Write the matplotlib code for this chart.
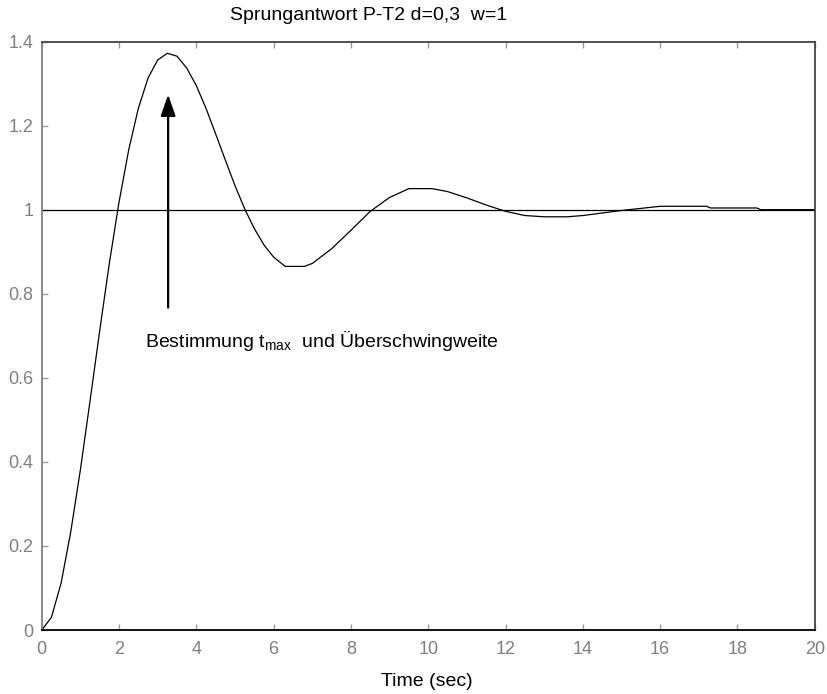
import matplotlib.pyplot as plt

plt.rcParams['font.family'] = ['Liberation Sans', 'DejaVu Sans']
plt.rcParams['mathtext.fontset'] = 'custom'
plt.rcParams['mathtext.rm'] = 'Liberation Sans'

# step response
t = [0, 0.25, 0.5, 0.75, 1, 1.25, 1.5, 1.75, 2, 2.25, 2.5, 2.75, 3, 3.25, 3.5, 3.75,
     4, 4.25, 4.5, 4.75, 5, 5.25, 5.5, 5.75, 6, 6.3, 6.8, 7, 7.5, 8, 8.5, 9, 9.5, 10.1, 10.5, 11, 11.5,
     12, 12.5, 13, 13.6, 14, 14.5, 15, 15.5, 16, 17.2, 17.3, 18.5, 18.6, 20]
y = [0, 0.03, 0.111, 0.233, 0.381, 0.545, 0.712, 0.873, 1.018, 1.142, 1.241, 1.313, 1.356, 1.372, 1.365, 1.337,
     1.295, 1.241, 1.18, 1.118, 1.057, 1.002, 0.955, 0.916, 0.887, 0.865, 0.865, 0.872, 0.907, 0.951, 0.996, 1.029,
     1.05, 1.05, 1.043, 1.028, 1.011,
     0.996, 0.986, 0.983, 0.983, 0.986, 0.992, 0.998, 1.003, 1.008, 1.008, 1.004, 1.004, 1.0, 1.0]

xticks = [0, 2, 4, 6, 8, 10, 12, 14, 16, 18, 20]
yticks = [0, 0.2, 0.4, 0.6, 0.8, 1, 1.2, 1.4]
yticklabels = ['0', '0.2', '0.4', '0.6', '0.8', '1', '1.2', '1.4']

fig = plt.figure(figsize=(8.28, 6.94), dpi=100)
ax = fig.add_axes([0.0504, 0.0922, 0.9336, 0.848])

ax.plot(t, y, color='black', linewidth=0.9)
ax.axhline(1, color='black', linewidth=0.9)

# arrow marking t_max
ax.annotate('', xy=(3.27, 1.274), xytext=(3.27, 0.767),
            arrowprops=dict(arrowstyle='-|>,head_width=0.45,head_length=1.3',
                            color='black', linewidth=1.6, shrinkA=0, shrinkB=0))
ax.text(2.67, 0.674, r'Bestimmung t$_{\mathregular{max}}$  und Überschwingweite',
        fontsize=14, ha='left', va='baseline')

ax.set_xlim(0, 20)
ax.set_ylim(0, 1.4)
ax.set_xticks(xticks)
ax.set_yticks(yticks)
ax.set_yticklabels(yticklabels)
ax.tick_params(direction='in', length=4, width=1, color='#999999', labelcolor='#808080',
               labelsize=13, top=True, right=False)
ax.tick_params(axis='x', pad=8)
ax.tick_params(axis='y', pad=6)

ax.spines['left'].set_color('#808080')
ax.spines['bottom'].set_color('black')
ax.spines['top'].set_color('#444444')
ax.spines['right'].set_color('#444444')
for s in ax.spines.values():
    s.set_linewidth(1.3)

fig.text(0.4457, 0.978, 'Sprungantwort P-T2 d=0,3  w=1', fontsize=14, ha='center', va='center')
fig.text(0.516, 0.0173, 'Time (sec)', fontsize=14, ha='center', va='center')

fig.savefig('out.png', dpi=100)
